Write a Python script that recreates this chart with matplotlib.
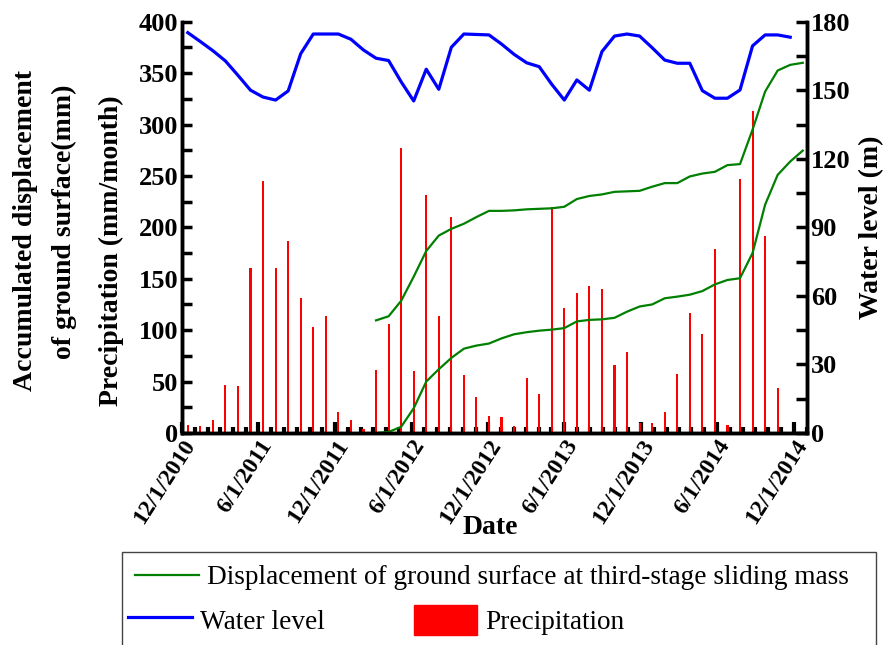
import numpy as np
import pandas as pd
import matplotlib
matplotlib.use('Agg')
import matplotlib.pyplot as plt
import matplotlib.dates as mdates
from matplotlib.patches import Patch, Rectangle
from matplotlib.lines import Line2D
from matplotlib.ticker import MultipleLocator, FixedLocator

plt.rcParams['font.family'] = 'Liberation Serif'
plt.rcParams['font.weight'] = 'bold'

# readings roughly every 30 days, starting mid Dec 2010
dates = pd.date_range('2010-12-14', periods=50, freq='30D')

precip = [8, 7, 13, 47, 46, 160, 245, 160, 187, 131, 103, 114,
          20, 13, 4, 61, 106, 277, 60, 231, 114, 210, 56, 35,
          17, 16, 7, 53, 38, 220, 122, 136, 143, 140, 66, 79,
          10, 10, 20, 57, 117, 96, 179, 8, 247, 313, 192, 44]

water_level = [175.2, 171.3, 167.3, 162.8, 156.5, 150.0, 147.0, 145.7, 149.7, 166.0, 174.6, 174.6,
               174.6, 172.3, 167.6, 164.0, 163.0, 153.7, 145.3, 159.2, 150.4, 168.8, 174.6, 174.4,
               174.2, 170.2, 165.7, 162.0, 160.3, 152.6, 145.7, 154.5, 150.0, 166.9, 173.7, 174.6,
               173.7, 168.6, 163.2, 161.8, 161.8, 149.8, 146.5, 146.5, 150.1, 169.4, 174.2, 174.2, 173.2]

# displacement monitoring starts at reading 15 (Mar 2012)
disp_start = 15
disp_upper = [109.5, 113.5, 128.5, 152, 177, 192, 198.5, 203.5, 210, 216, 216, 216.5,
              217.5, 218, 218.5, 220, 227.5, 230.5, 232, 234.5, 235, 235.5, 239.5, 243,
              243, 249.5, 252.3, 254, 260.5, 261.5, 295, 332, 352.5, 358, 360]
disp_lower = [0, 1, 6, 24, 50, 62, 73, 82, 85, 87, 92, 96,
              98, 99.5, 100.5, 102, 108.5, 110, 110.5, 112, 118, 123, 125, 131,
              132.6, 134.5, 138, 144.5, 148.8, 150.5, 175, 222, 251, 264, 274.6]

tick_labels = ['12/1/2010', '6/1/2011', '12/1/2011', '6/1/2012', '12/1/2012',
               '6/1/2013', '12/1/2013', '6/1/2014', '12/1/2014']

x = mdates.date2num(dates)
xt = mdates.date2num(pd.to_datetime(tick_labels, format='%m/%d/%Y'))
xminor = mdates.date2num(pd.date_range('2010-12-01', '2015-01-01', freq='MS'))

fig = plt.figure(figsize=(8.86, 6.45), dpi=100)
ax = fig.add_axes([0.2058, 0.3287, 0.7045, 0.6377])
ax2 = ax.twinx()

ax.bar(x[:len(precip)], precip, width=5, color='red', zorder=2)
ax.plot(x[disp_start:disp_start + len(disp_upper)], disp_upper, color='green', lw=1.6, zorder=3)
ax.plot(x[disp_start:disp_start + len(disp_lower)], disp_lower, color='green', lw=1.6, zorder=3)
ax2.plot(x[:len(water_level)], water_level, color='blue', lw=2.3)

ax.set_xlim(mdates.date2num(pd.Timestamp('2010-12-01')), mdates.date2num(pd.Timestamp('2015-01-01')))
ax.set_ylim(0, 400)
ax2.set_ylim(0, 180)

ax.xaxis.set_major_locator(FixedLocator(xt))
ax.xaxis.set_minor_locator(FixedLocator(xminor))
ax.set_xticklabels(tick_labels, rotation=57, ha='right', va='top', rotation_mode='anchor')
ax.yaxis.set_major_locator(MultipleLocator(50))
ax.yaxis.set_minor_locator(MultipleLocator(25))
ax2.yaxis.set_major_locator(MultipleLocator(30))
ax2.yaxis.set_minor_locator(MultipleLocator(15))

for a in (ax, ax2):
    a.spines['top'].set_visible(False)
    for s in ('left', 'right', 'bottom'):
        a.spines[s].set_linewidth(2.5)
ax.tick_params(axis='y', which='both', direction='in', length=7, width=2.5, labelsize=19, pad=3)
ax2.tick_params(axis='y', which='both', direction='in', length=8, width=2.5, labelsize=19, pad=3)
ax.tick_params(axis='x', which='major', direction='in', length=8, width=3, labelsize=17, pad=2)
ax.tick_params(axis='x', which='minor', direction='in', length=4, width=3)

ax.set_xlabel('Date', fontsize=20, fontweight='bold')
ax.xaxis.set_label_coords(0.493, -0.20)
fig.text(0.029, 0.643, 'Accumulated displacement', rotation=90, ha='center', va='center', fontsize=20)
fig.text(0.073, 0.656, 'of ground surface(mm)', rotation=90, ha='center', va='center', fontsize=20)
fig.text(0.126, 0.612, 'Precipitation (mm/month)', rotation=90, ha='center', va='center', fontsize=20)
ax2.set_ylabel('Water level (m)', fontsize=20, fontweight='bold', labelpad=6)

# legend box
fig.add_artist(Rectangle((0.1377, -0.05), 0.851, 0.1942, transform=fig.transFigure,
                         fill=False, lw=1.0, edgecolor='#444444'))
h1 = [Line2D([], [], color='green', lw=1.6)]
leg1 = fig.legend(h1, ['Displacement of ground surface at third-stage sliding mass'],
                  loc='center left', bbox_to_anchor=(0.152, 0.104), frameon=False,
                  prop={'weight': 'normal', 'size': 19.6}, handlelength=2.35, handletextpad=0.3,
                  borderpad=0, borderaxespad=0)
h2 = [Line2D([], [], color='blue', lw=2.3), Patch(color='red')]
leg2 = fig.legend(h2, ['Water level', 'Precipitation'], ncol=2,
                  loc='center left', bbox_to_anchor=(0.1445, 0.039), frameon=False,
                  prop={'weight': 'normal', 'size': 19.6}, handlelength=2.35, handleheight=1.3,
                  handletextpad=0.3, columnspacing=3.25, borderpad=0, borderaxespad=0)

fig.savefig('out.png', dpi=100)
